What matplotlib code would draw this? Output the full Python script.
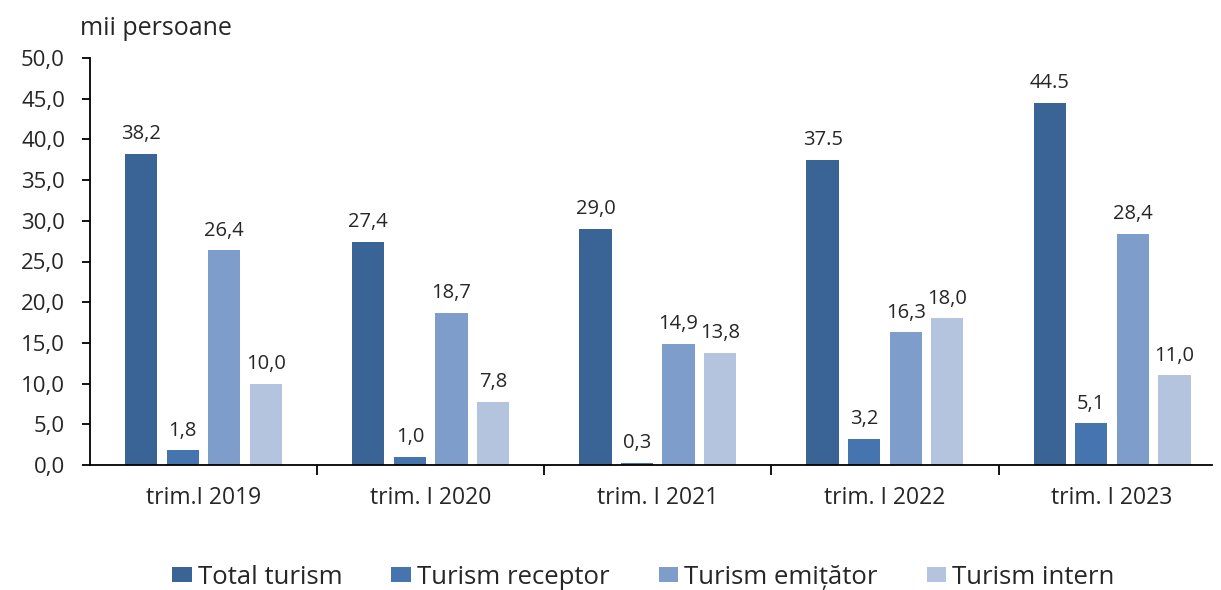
import matplotlib
matplotlib.use("Agg")
import matplotlib.pyplot as plt
import numpy as np

categories = ["trim.I 2019", "trim. I 2020", "trim. I 2021", "trim. I 2022", "trim. I 2023"]
series_names = ["Total turism", "Turism receptor", "Turism emițător", "Turism intern"]
total = [38.2, 27.4, 29.0, 37.5, 44.5]
receptor = [1.8, 1.0, 0.3, 3.2, 5.1]
emitator = [26.4, 18.7, 14.9, 16.3, 28.4]
intern = [10.0, 7.8, 13.8, 18.0, 11.0]
# labels that appear with a decimal point instead of a comma in the source
dot_labels = {(0, 3), (0, 4)}
yticks = [0, 5, 10, 15, 20, 25, 30, 35, 40, 45, 50]

colors = ["#3B6496", "#4574AE", "#7F9DCA", "#B4C4DE"]
txt = '#262626'

plt.rcParams['font.family'] = ['Open Sans', 'DejaVu Sans']

fig = plt.figure(figsize=(12.21, 5.90), dpi=100)
ax = fig.add_axes([90/1221, 1-465/590, 1122/1221, 407/590])

data = [total, receptor, emitator, intern]
x = np.arange(len(categories))
step = 0.183
width = 0.142
for i, (vals, name, c) in enumerate(zip(data, series_names, colors)):
    pos = x + (i - 1.5) * step
    ax.bar(pos, vals, width=width, color=c, label=name, zorder=2)
    for j, (p, v) in enumerate(zip(pos, vals)):
        s = f"{v:.1f}"
        if (i, j) not in dot_labels:
            s = s.replace('.', ',')
        ax.annotate(s, (p, v), xytext=(0, 10.5), textcoords='offset points',
                    ha='center', va='baseline', fontsize=14.5, color=txt)

ax.set_xlim(-0.5, 4.44)
ax.set_ylim(0, 50)
ax.set_yticks(yticks)
ax.set_yticklabels([f"{t:.1f}".replace('.', ',') for t in yticks], fontsize=16, color=txt)
ax.set_xticks(x)
ax.set_xticklabels(categories, fontsize=16.5, color=txt)
ax.tick_params(axis='x', length=0, pad=15)
ax.set_xticks(np.arange(0.5, len(categories) - 0.5, 1.0), minor=True)
ax.tick_params(axis='x', which='minor', length=7, width=1.3, color='black', direction='out')
ax.tick_params(axis='y', length=6, width=1.3, color='black', direction='out', pad=12)
for s in ['top', 'right']:
    ax.spines[s].set_visible(False)
ax.spines['left'].set_linewidth(1.3)
ax.spines['bottom'].set_linewidth(1.3)

fig.text(80/1221, 1-35/590, "mii persoane", fontsize=18, color=txt, va='baseline', ha='left')

fig.legend(loc='center', bbox_to_anchor=(0.527, 1-577/590), ncol=4, frameon=False,
           fontsize=18.5, handlelength=0.75, handleheight=0.55, handletextpad=0.25,
           columnspacing=1.9, labelcolor=txt)

fig.savefig("out.png", dpi=100)
